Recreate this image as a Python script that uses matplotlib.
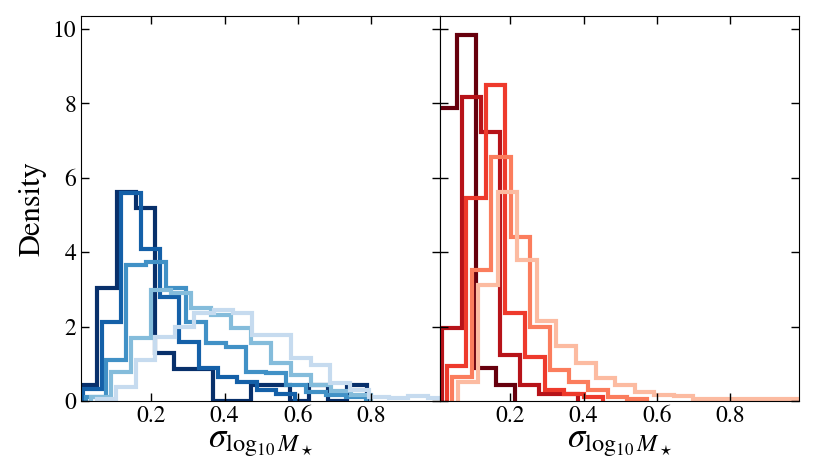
import numpy as np
import matplotlib
matplotlib.use("Agg")
import matplotlib.pyplot as plt

plt.rcParams['font.family'] = ['STIXGeneral', 'DejaVu Serif']
plt.rcParams['mathtext.fontset'] = 'stix'

# left panel (blues) - bin start, bin width, density per bin
blue_start = [0.0, 0.013, 0.0224, 0.0354, 0.0505]
blue_width = [0.0525, 0.0527, 0.0545, 0.0546, 0.0532]
blue_1 = [0.43, 3.03, 5.63, 5.19, 1.30, 0.87, 0.87, 0, 0, 0.43, 0.43, 0, 0.43, 0, 0.43]
blue_2 = [0.31, 2.13, 5.58, 4.08, 2.8, 1.59, 0.9, 0.65, 0.5, 0.3, 0.2]
blue_3 = [0.12, 1.1, 3.66, 3.74, 3.05, 2.13, 1.55, 1.46, 0.79, 0.74, 0.43, 0.25, 0.15, 0.1]
blue_4 = [0.1, 0.79, 1.69, 2.98, 2.9, 2.49, 2.31, 1.95, 1.55, 1.01, 0.7, 0.43, 0.27, 0.15]
blue_5 = [0.05, 0.38, 1.1, 1.73, 2.0, 2.36, 2.45, 2.36, 1.77, 1.77, 1.15, 0.97, 0.48, 0.3,
          0.1, 0.07, 0.13, 0.07]

# right panel (reds)
red_start = [0.0, 0.014, 0.026, 0.042, 0.058]
red_width = [0.0535, 0.053, 0.0535, 0.053, 0.0535]
red_1 = [7.87, 9.84, 0.88, 0.43]
red_2 = [1.95, 8.16, 7.24, 1.24, 0.43, 0.2, 0.2]
red_3 = [0.94, 5.45, 8.49, 2.36, 1.19, 0.3, 0.2, 0.1]
red_4 = [0.65, 3.52, 6.57, 4.4, 2.0, 0.83, 0.52, 0.3, 0.1, 0.05]
red_5 = [0.52, 3.12, 5.63, 3.79, 2.15, 1.48, 1.01, 0.61, 0.43, 0.25, 0.16, 0.13,
         0.05, 0.05, 0.05, 0.05, 0.05, 0.05]

blues = [blue_1, blue_2, blue_3, blue_4, blue_5]
reds = [red_1, red_2, red_3, red_4, red_5]
xticks = [0.2, 0.4, 0.6, 0.8]
yticks = [0, 2, 4, 6, 8, 10]

fig, axes = plt.subplots(1, 2, figsize=(8.3, 4.67), dpi=100, sharey=True)
fig.subplots_adjust(left=81/830, right=799/830, bottom=1-401/467, top=1-16/467, wspace=0)

shades = np.linspace(1.0, 0.25, 5)
for ax, sets, starts, widths, cmap in [(axes[0], blues, blue_start, blue_width, plt.cm.Blues),
                                       (axes[1], reds, red_start, red_width, plt.cm.Reds)]:
    for i, h in enumerate(sets):
        edges = starts[i] + widths[i]*np.arange(len(h)+1)
        ax.stairs(h, edges, color=cmap(shades[i]), lw=3)
    ax.set_xlim(0.008, 0.988)
    ax.set_xticks(xticks)
    ax.set_xticklabels([str(t) for t in xticks])
    ax.set_xlabel(r'$\sigma_{\log_{10}M_\star}$', fontsize=25, labelpad=0)
    ax.tick_params(direction='in', top=True, right=True, labelsize=17, length=6, width=1)

axes[0].set_ylim(0, 10.35)
axes[0].set_yticks(yticks)
axes[0].set_ylabel('Density', fontsize=22)
axes[1].tick_params(labelleft=False)

plt.savefig('out.png', dpi=100)
